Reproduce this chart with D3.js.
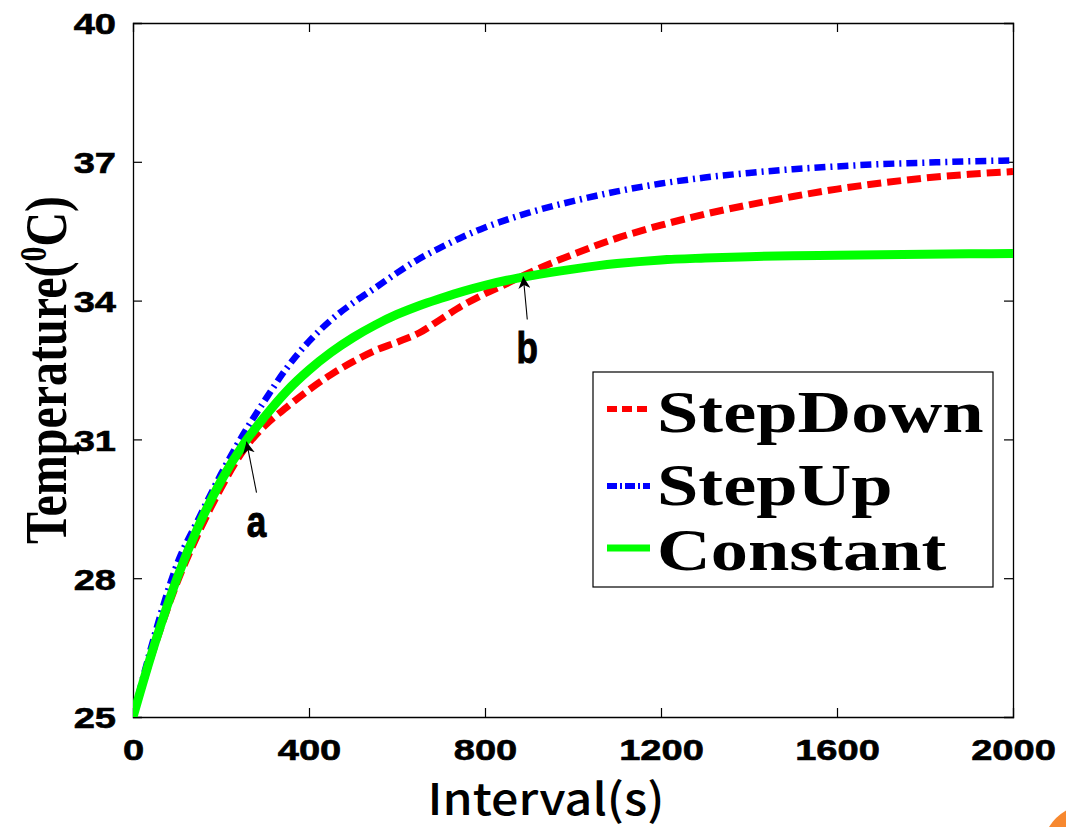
<!DOCTYPE html>
<html>
<head>
<meta charset="utf-8">
<script src="https://cdn.jsdelivr.net/npm/d3@7"></script>
<style>
  html, body { margin: 0; padding: 0; background: #fff; }
  svg { display: block; }
</style>
</head>
<body>
<div id="chart"></div>
<script>
// chart data
var times    = [0, 50, 100, 150, 200, 250, 300, 350, 400, 450, 500, 550, 600, 650, 700, 750, 800, 850, 900, 1000, 1100, 1200, 1300, 1400, 1500, 1600, 1700, 1800, 1900, 2000];
var stepDown = [25, 26.55, 27.9, 29.0, 29.95, 30.75, 31.3, 31.7, 32.07, 32.4, 32.68, 32.92, 33.1, 33.3, 33.6, 33.9, 34.15, 34.37, 34.6, 35.0, 35.35, 35.63, 35.87, 36.07, 36.25, 36.41, 36.54, 36.65, 36.73, 36.79];
var stepUp   = [25, 26.8, 28.3, 29.3, 30.25, 31.1, 31.85, 32.55, 33.12, 33.58, 33.95, 34.27, 34.6, 34.9, 35.15, 35.38, 35.58, 35.75, 35.9, 36.15, 36.36, 36.53, 36.66, 36.76, 36.84, 36.9, 36.95, 36.98, 37.01, 37.03];
var constant = [25, 26.6, 28.0, 29.15, 30.1, 30.88, 31.5, 32.05, 32.5, 32.88, 33.2, 33.47, 33.7, 33.89, 34.05, 34.2, 34.33, 34.44, 34.53, 34.68, 34.8, 34.88, 34.92, 34.95, 34.97, 34.98, 34.99, 35.0, 35.01, 35.02];

var seriesNames  = ["StepDown", "StepUp", "Constant"];
var seriesColors = ["#ff0000", "#0000ff", "#00ff00"];
var xTicks = [0, 400, 800, 1200, 1600, 2000];
var yTicks = [25, 28, 31, 34, 37, 40];

// annotated points: label, time, temperature
var notes = [
    { label: "a", t: 258, v: 30.95, dx: 10, dy: 51 },
    { label: "b", t: 887, v: 34.52, dx: 4,  dy: 43 }
];

var width = 1066, height = 827;
var margin = { top: 23, right: 53, bottom: 110, left: 133 };
var plotW = width - margin.left - margin.right,
    plotH = height - margin.top - margin.bottom;

// the source image is stretched sideways, so widen the horizontal text
function widen(sel, k) {
    sel.each(function() {
        var len = this.getComputedTextLength();
        d3.select(this).attr("textLength", len * k).attr("lengthAdjust", "spacingAndGlyphs");
    });
}

var svg = d3.select("#chart").append("svg")
    .attr("width", width)
    .attr("height", height);

var x = d3.scaleLinear().domain([0, 2000]).range([0, plotW]);
var y = d3.scaleLinear().domain([25, 40]).range([plotH, 0]);

var g = svg.append("g").attr("transform", "translate(" + margin.left + "," + margin.top + ")");

g.append("clipPath").attr("id", "clip")
  .append("rect").attr("width", plotW).attr("height", plotH);

// axes, ticks pointing inward on all four sides
var tickFont = "'Liberation Sans', Arial, sans-serif";

var xAxis = g.append("g")
    .attr("transform", "translate(0," + plotH + ")")
    .call(d3.axisBottom(x).tickValues(xTicks).tickSize(-9).tickPadding(22).tickFormat(d3.format("d")));
var yAxis = g.append("g")
    .call(d3.axisLeft(y).tickValues(yTicks).tickSize(-9).tickPadding(17).tickFormat(d3.format("d")));
g.append("g")
    .call(d3.axisTop(x).tickValues(xTicks).tickSize(-9).tickFormat(""));
g.append("g")
    .attr("transform", "translate(" + plotW + ",0)")
    .call(d3.axisRight(y).tickValues(yTicks).tickSize(-9).tickFormat(""));

g.selectAll(".domain").attr("stroke", "#000").attr("stroke-width", 1.3);
g.selectAll(".tick line").attr("stroke", "#000").attr("stroke-width", 1.2);
// hide the edge ticks that sit on the box corners
g.selectAll(".tick line").filter(function(d) { return d === 0 || d === 2000 || d === 25 || d === 40; }).remove();

[xAxis, yAxis].forEach(function(a) {
    a.selectAll("text")
        .style("font-family", tickFont)
        .style("font-weight", "bold")
        .style("font-size", "30px")
        .attr("fill", "#000")
        .attr("stroke", "#000")
        .attr("stroke-width", 0.6);
});
yAxis.selectAll("text").attr("dy", "0.36em");
widen(xAxis.selectAll("text"), 1.27);
widen(yAxis.selectAll("text"), 1.27);

// curves
var line = d3.line()
    .x(function(d) { return x(d[0]); })
    .y(function(d) { return y(d[1]); })
    .curve(d3.curveMonotoneX);

var series = [stepDown, stepUp, constant];
var dashes = ["14,6", "11,5,2,5", null];
var widths = [7, 6.5, 9];

var curves = g.append("g").attr("clip-path", "url(#clip)");
series.forEach(function(vals, i) {
    curves.append("path")
        .datum(times.map(function(t, j) { return [t, vals[j]]; }))
        .attr("d", line)
        .attr("fill", "none")
        .attr("stroke", seriesColors[i])
        .attr("stroke-width", widths[i])
        .attr("stroke-dasharray", dashes[i]);
});

// annotation arrows
svg.append("defs").append("marker")
    .attr("id", "head")
    .attr("viewBox", "0 0 10 10")
    .attr("refX", 10).attr("refY", 5)
    .attr("markerWidth", 12).attr("markerHeight", 12)
    .attr("markerUnits", "userSpaceOnUse")
    .attr("orient", "auto")
  .append("path")
    .attr("d", "M0,0 L10,5 L0,10 L3,5 Z")
    .attr("fill", "#000");

notes.forEach(function(n) {
    var px = x(n.t), py = y(n.v);
    g.append("line")
        .attr("x1", px + n.dx).attr("y1", py + n.dy)
        .attr("x2", px).attr("y2", py)
        .attr("stroke", "#000")
        .attr("stroke-width", 1.1)
        .attr("marker-end", "url(#head)");
    g.append("text")
        .attr("transform", "translate(" + (px + n.dx) + "," + (py + n.dy + (n.label === "a" ? 44 : 43)) + ") scale(0.78,1)")
        .attr("text-anchor", "middle")
        .style("font-family", "'Liberation Sans', Arial, sans-serif")
        .style("font-weight", "bold")
        .style("font-size", "45px")
        .attr("stroke", "#000")
        .attr("stroke-width", 1)
        .text(n.label);
});

// legend
var legend = g.append("g").attr("transform", "translate(" + (593 - margin.left) + "," + (372 - margin.top) + ")");
legend.append("rect")
    .attr("width", 400).attr("height", 215)
    .attr("fill", "#fff")
    .attr("stroke", "#000")
    .attr("stroke-width", 1.2);

var rowBase = [60, 133, 198];
var rowLine = [37, 114, 176];
seriesNames.forEach(function(name, i) {
    legend.append("line")
        .attr("x1", 14).attr("x2", 57)
        .attr("y1", rowLine[i]).attr("y2", rowLine[i])
        .attr("stroke", seriesColors[i])
        .attr("stroke-width", i === 2 ? 7 : 6)
        .attr("stroke-dasharray", i === 0 ? "10,5" : (i === 1 ? "10,3,2,3" : null));
    legend.append("text")
        .attr("transform", "translate(64," + rowBase[i] + ") scale(1.24,1)")
        .style("font-family", "'Liberation Serif', 'Times New Roman', serif")
        .style("font-weight", "bold")
        .style("font-size", "60px")
        .text(name);
});

// axis titles
svg.append("text")
    .attr("x", 546).attr("y", 815)
    .attr("text-anchor", "middle")
    .style("font-family", "'Noto Sans CJK JP', 'Noto Sans', sans-serif")
    .style("font-weight", "500")
    .style("font-size", "44px")
    .text("Interval(s)")
    .call(widen, 1.1);

var ylab = svg.append("text")
    .attr("transform", "translate(66,370) scale(1.24,1) rotate(-90)")
    .attr("text-anchor", "middle")
    .style("font-family", "'Liberation Serif', 'Times New Roman', serif")
    .style("font-weight", "bold")
    .style("font-size", "48px");
ylab.append("tspan").text("Temperature(");
ylab.append("tspan").attr("dy", "-0.55em").style("font-size", "30px").text("0");
ylab.append("tspan").attr("dy", "0.35em").text("C)");

// orange blob cut off in the bottom-right corner of the source image
svg.append("circle")
    .attr("cx", 1090).attr("cy", 852).attr("r", 48)
    .attr("fill", "#f7882f");
</script>
</body>
</html>
